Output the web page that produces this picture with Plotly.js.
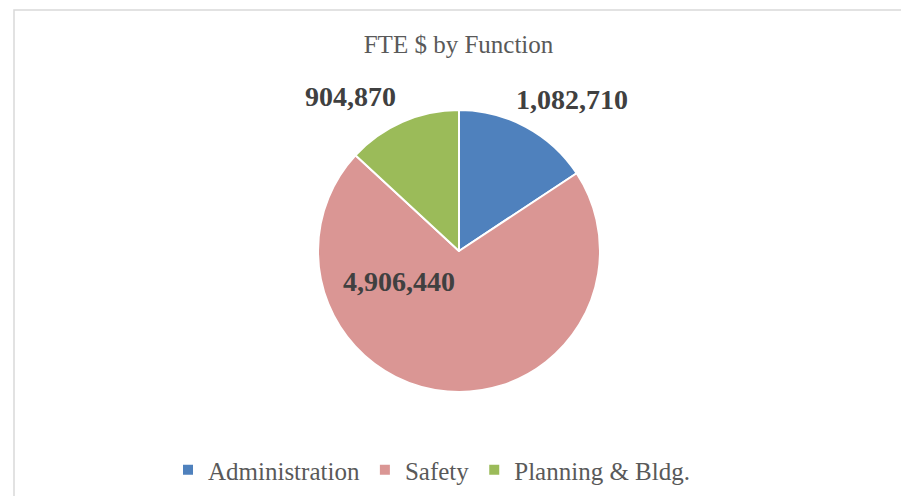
<!DOCTYPE html>
<html>
<head>
<meta charset="utf-8">
<script src="https://cdn.plot.ly/plotly-3.0.1.min.js"></script>
<style>
  html, body { margin: 0; padding: 0; background: #ffffff; }
  #chart { width: 901px; height: 496px; }
</style>
</head>
<body>
<div id="chart"></div>
<script>
// ---- data ----
var categories = ['Administration', 'Safety', 'Planning & Bldg.'];
var values = [1082710, 4906440, 904870];
var colors = ['#4F81BD', '#DA9694', '#9BBB59'];
var chartTitle = 'FTE $ by Function';

// ---- layout helpers (pixel -> paper) ----
var W = 901, H = 496;
function px(x) { return x / W; }
function py(y) { return 1 - y / H; }

// label anchor positions (pixels) for each slice's data label
var labelPos = [[572, 99], [399, 281], [350, 96]];

var fmt = function (v) { return v.toLocaleString('en-US'); };
var SERIF = 'Liberation Serif';

var trace = {
  type: 'pie',
  labels: categories,
  values: values,
  sort: false,
  direction: 'clockwise',
  rotation: 0,
  textinfo: 'none',
  hoverinfo: 'label+value+percent',
  marker: { colors: colors, line: { color: '#ffffff', width: 2 } },
  domain: { x: [px(318), px(600)], y: [py(392), py(110)] }
};

var annotations = categories.map(function (c, i) {
  return {
    xref: 'paper', yref: 'paper',
    x: px(labelPos[i][0]), y: py(labelPos[i][1]),
    xanchor: 'center', yanchor: 'middle',
    text: '<b>' + fmt(values[i]) + '</b>',
    showarrow: false,
    font: { family: SERIF, size: 28, color: '#404040' }
  };
});

var layout = {
  width: W, height: H,
  font: { family: SERIF, size: 25, color: '#595959' },
  margin: { l: 0, r: 0, t: 0, b: 0, pad: 0 },
  paper_bgcolor: '#ffffff',
  plot_bgcolor: '#ffffff',
  title: {
    text: chartTitle,
    x: px(458.5), xanchor: 'center', xref: 'paper',
    y: py(44), yanchor: 'middle', yref: 'container',
    font: { family: SERIF, size: 25, color: '#595959' }
  },
  showlegend: true,
  legend: {
    orientation: 'h',
    x: px(168), xanchor: 'left',
    y: py(470), yanchor: 'middle',
    font: { family: SERIF, size: 25, color: '#595959' },
    bgcolor: 'rgba(0,0,0,0)'
  },
  annotations: annotations,
  shapes: [{
    type: 'rect', xref: 'paper', yref: 'paper',
    x0: px(14), x1: 1.02, y0: -0.02, y1: py(10),
    line: { color: '#d9d9d9', width: 1.5 },
    fillcolor: 'rgba(0,0,0,0)', layer: 'below'
  }]
};

Plotly.newPlot('chart', [trace], layout, { displayModeBar: false, staticPlot: true });
</script>
</body>
</html>
